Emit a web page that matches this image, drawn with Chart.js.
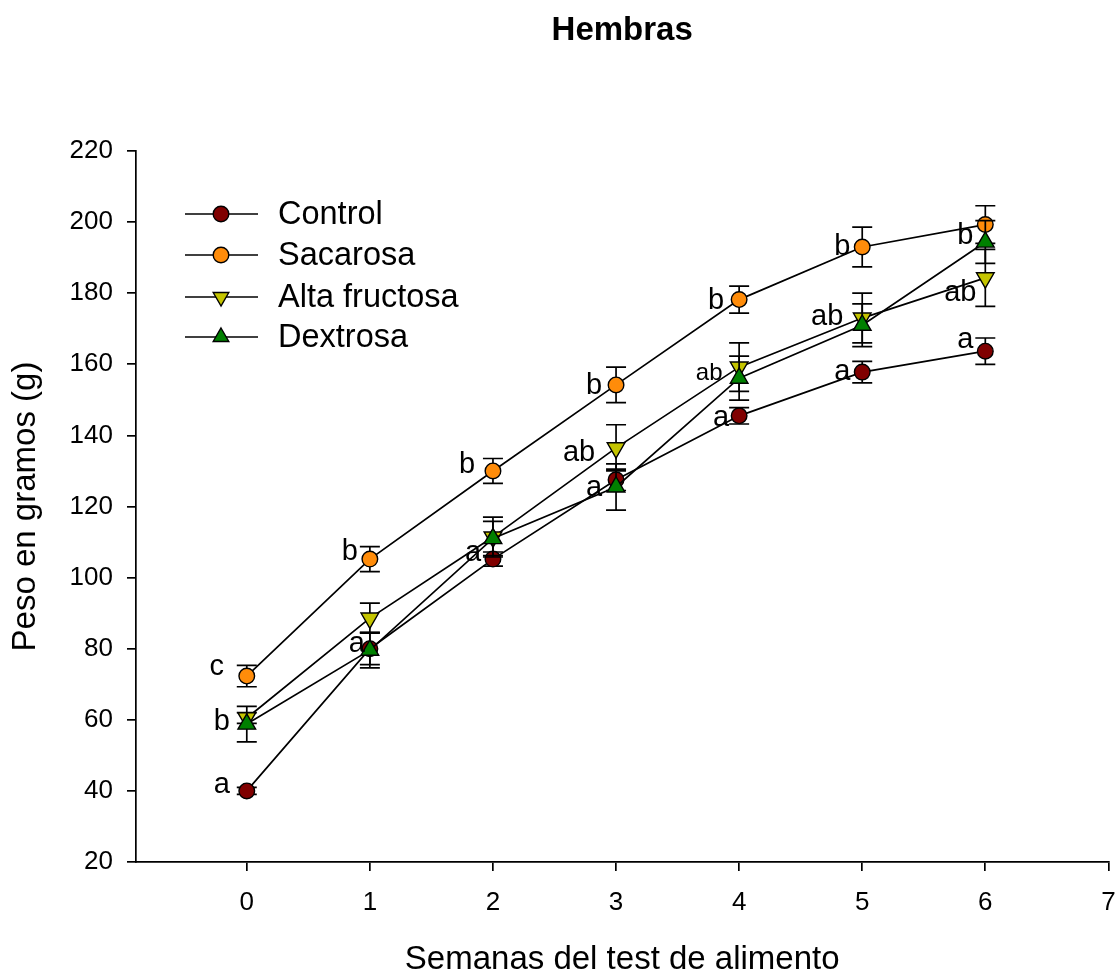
<!DOCTYPE html>
<html>
<head>
<meta charset="utf-8">
<title>Hembras</title>
<script src="https://cdn.jsdelivr.net/npm/chart.js@4/dist/chart.umd.min.js"></script>
<style>
  html, body { margin: 0; padding: 0; background: #fff; }
  #wrap { width: 1120px; height: 975px; }
</style>
</head>
<body>
<div id="wrap"><canvas id="weightChart" width="1120" height="975"></canvas></div>
<script>
// semanas del test
const weeks = [0, 1, 2, 3, 4, 5, 6];
const xTickValues = [0, 1, 2, 3, 4, 5, 6, 7];

// peso medio (g) y error estandar
const controlMean = [40, 80, 105.2, 127.5, 145.5, 157.8, 163.7];
const controlSem = [1, 4.5, 2, 3, 2.3, 3, 3.7];
const controlLetters = ["a", "a", "a", "a", "a", "a", "a"];

const sacarosaMean = [72.3, 105.2, 130, 154.2, 178.2, 193, 199.3];
const sacarosaSem = [3, 3.5, 3.5, 5, 3.8, 5.6, 5.3];
const sacarosaLetters = ["c", "b", "b", "b", "b", "b", "b"];

const fructosaMean = [60.5, 88.6, 111.4, 136.5, 159.2, 173, 184.3];
const fructosaSem = [1.5, 4.2, 5.6, 6.5, 6.8, 7, 8];
const fructosaLetters = ["b", "", "", "ab", "ab", "ab", "ab"];

const dextrosaMean = [58.8, 79.6, 111, 125.5, 156.1, 171, 194.4];
const dextrosaSem = [5, 5, 4.8, 6.5, 6.2, 6, 6];
const dextrosaLetters = ["", "", "", "", "", "", ""];

// where each letter sits next to its point (px), and its font size
const letterOffsets = {
  Control: [[-25, -6], [-13, -5], [-20, -6], [-22, 8], [-18, 2], [-20, 0], [-20, -11]],
  Sacarosa: [[-30, -9], [-20, -7], [-26, -6], [-22, 1], [-23, 1], [-20, 0], [-20, 11]],
  "Alta fructosa": [[-25, 4], [0, 0], [0, 0], [-37, 5], [-30, 6], [-35, -1], [-25, 15]],
  Dextrosa: [[0, 0], [0, 0], [0, 0], [0, 0], [0, 0], [0, 0], [0, 0]]
};
const letterSizes = {
  "Alta fructosa": [29, 29, 29, 29, 24, 29, 29]
};

const FONT = "Arial, 'Liberation Sans', Helvetica, sans-serif";

function toPoints(means) {
  return weeks.map((w, i) => ({ x: w, y: means[i] }));
}

function makeSeries(label, means, sems, letters, color, style, rotation, radius, order) {
  return {
    label: label,
    data: toPoints(means),
    sem: sems,
    letters: letters,
    borderColor: "#000",
    borderWidth: 1.7,
    pointStyle: style,
    rotation: rotation,
    pointRadius: radius,
    pointBackgroundColor: color,
    pointBorderColor: "#000",
    pointBorderWidth: 1.4,
    tension: 0,
    order: order
  };
}

const datasets = [
  makeSeries("Control", controlMean, controlSem, controlLetters, "#800000", "circle", 0, 7.8, 4),
  makeSeries("Sacarosa", sacarosaMean, sacarosaSem, sacarosaLetters, "#ff8c0a", "circle", 0, 7.8, 3),
  makeSeries("Alta fructosa", fructosaMean, fructosaSem, fructosaLetters, "#c4c400", "triangle", 180, 10.2, 2),
  makeSeries("Dextrosa", dextrosaMean, dextrosaSem, dextrosaLetters, "#008000", "triangle", 0, 10.2, 1)
];

// error bars, drawn just under each series
const errorBars = {
  id: "errorBars",
  beforeDatasetDraw(chart, args) {
    const ds = chart.data.datasets[args.index];
    const meta = args.meta;
    const yScale = chart.scales.y;
    const ctx = chart.ctx;
    ctx.save();
    ctx.strokeStyle = "#000";
    ctx.lineWidth = 1.7;
    meta.data.forEach((pt, j) => {
      const v = ds.data[j].y;
      const e = ds.sem[j];
      const top = yScale.getPixelForValue(v + e);
      const bot = yScale.getPixelForValue(v - e);
      ctx.beginPath();
      ctx.moveTo(pt.x, top);
      ctx.lineTo(pt.x, bot);
      ctx.moveTo(pt.x - 10, top);
      ctx.lineTo(pt.x + 10, top);
      ctx.moveTo(pt.x - 10, bot);
      ctx.lineTo(pt.x + 10, bot);
      ctx.stroke();
    });
    ctx.restore();
  }
};

// significance letters, title and legend
const extras = {
  id: "extras",
  afterDatasetsDraw(chart) {
    const ctx = chart.ctx;
    ctx.save();
    ctx.fillStyle = "#000";
    ctx.textAlign = "center";
    ctx.textBaseline = "middle";
    chart.data.datasets.forEach((ds, i) => {
      const meta = chart.getDatasetMeta(i);
      ds.letters.forEach((txt, j) => {
        if (!txt) return;
        const off = letterOffsets[ds.label][j];
        const size = (letterSizes[ds.label] || [])[j] || 29;
        ctx.font = size + "px " + FONT;
        ctx.fillText(txt, meta.data[j].x + off[0], meta.data[j].y + off[1]);
      });
    });
    ctx.restore();
  },
  afterDraw(chart) {
    const ctx = chart.ctx;
    const area = chart.chartArea;
    ctx.save();
    ctx.fillStyle = "#000";
    ctx.textAlign = "center";
    ctx.textBaseline = "middle";
    ctx.font = "bold 33px " + FONT;
    ctx.fillText("Hembras", (area.left + area.right) / 2, 31);

    const rows = [214, 255, 297, 337];
    ctx.font = "32.5px " + FONT;
    ctx.textAlign = "left";
    chart.data.datasets.forEach((ds, i) => {
      const y = rows[i];
      ctx.strokeStyle = "#000";
      ctx.lineWidth = 1.7;
      ctx.beginPath();
      ctx.moveTo(185, y);
      ctx.lineTo(258, y);
      ctx.stroke();
      ctx.fillStyle = ds.pointBackgroundColor;
      ctx.strokeStyle = "#000";
      ctx.lineWidth = ds.pointBorderWidth;
      Chart.helpers.drawPoint(ctx, {
        pointStyle: ds.pointStyle,
        rotation: ds.rotation,
        radius: ds.pointStyle === "circle" ? 7.8 : 9,
        borderWidth: ds.pointBorderWidth
      }, 221, y);
      ctx.fillStyle = "#000";
      ctx.fillText(ds.label, 278, y + 1);
    });
    ctx.restore();
  }
};

const ctx = document.getElementById("weightChart").getContext("2d");

new Chart(ctx, {
  type: "line",
  data: { datasets: datasets },
  plugins: [errorBars, extras],
  options: {
    responsive: false,
    animation: false,
    layout: { padding: { left: 0, top: 151, right: 10, bottom: 0 } },
    plugins: {
      legend: { display: false },
      tooltip: { enabled: false },
      title: { display: false }
    },
    scales: {
      x: {
        type: "linear",
        min: -0.9,
        max: 7,
        afterBuildTicks: function(scale) {
          scale.ticks = xTickValues.map(v => ({ value: v }));
        },
        afterFit: function(scale) {
          scale.height = 113;
          scale.paddingLeft = 0;
          scale.paddingRight = 0;
        },
        ticks: {
          color: "#000",
          font: { family: FONT, size: 26 },
          padding: 16,
          maxRotation: 0
        },
        grid: {
          drawOnChartArea: false,
          drawTicks: true,
          tickLength: 9,
          color: "#000",
          lineWidth: 1.7
        },
        border: { display: true, color: "#000", width: 1.7 },
        title: {
          display: true,
          text: "Semanas del test de alimento",
          color: "#000",
          font: { family: FONT, size: 33, lineHeight: 0.9 },
          padding: { top: 0, bottom: 0 }
        }
      },
      y: {
        min: 20,
        max: 220,
        afterFit: function(scale) {
          scale.width = 136;
          scale.paddingTop = 0;
          scale.paddingBottom = 0;
        },
        ticks: {
          stepSize: 20,
          color: "#000",
          font: { family: FONT, size: 26 },
          padding: 14
        },
        grid: {
          drawOnChartArea: false,
          drawTicks: true,
          tickLength: 9,
          color: "#000",
          lineWidth: 1.7
        },
        border: { display: true, color: "#000", width: 1.7 },
        title: {
          display: true,
          text: "Peso en gramos (g)",
          color: "#000",
          font: { family: FONT, size: 33 },
          padding: { top: 6, bottom: 0 }
        }
      }
    }
  }
});
</script>
</body>
</html>
